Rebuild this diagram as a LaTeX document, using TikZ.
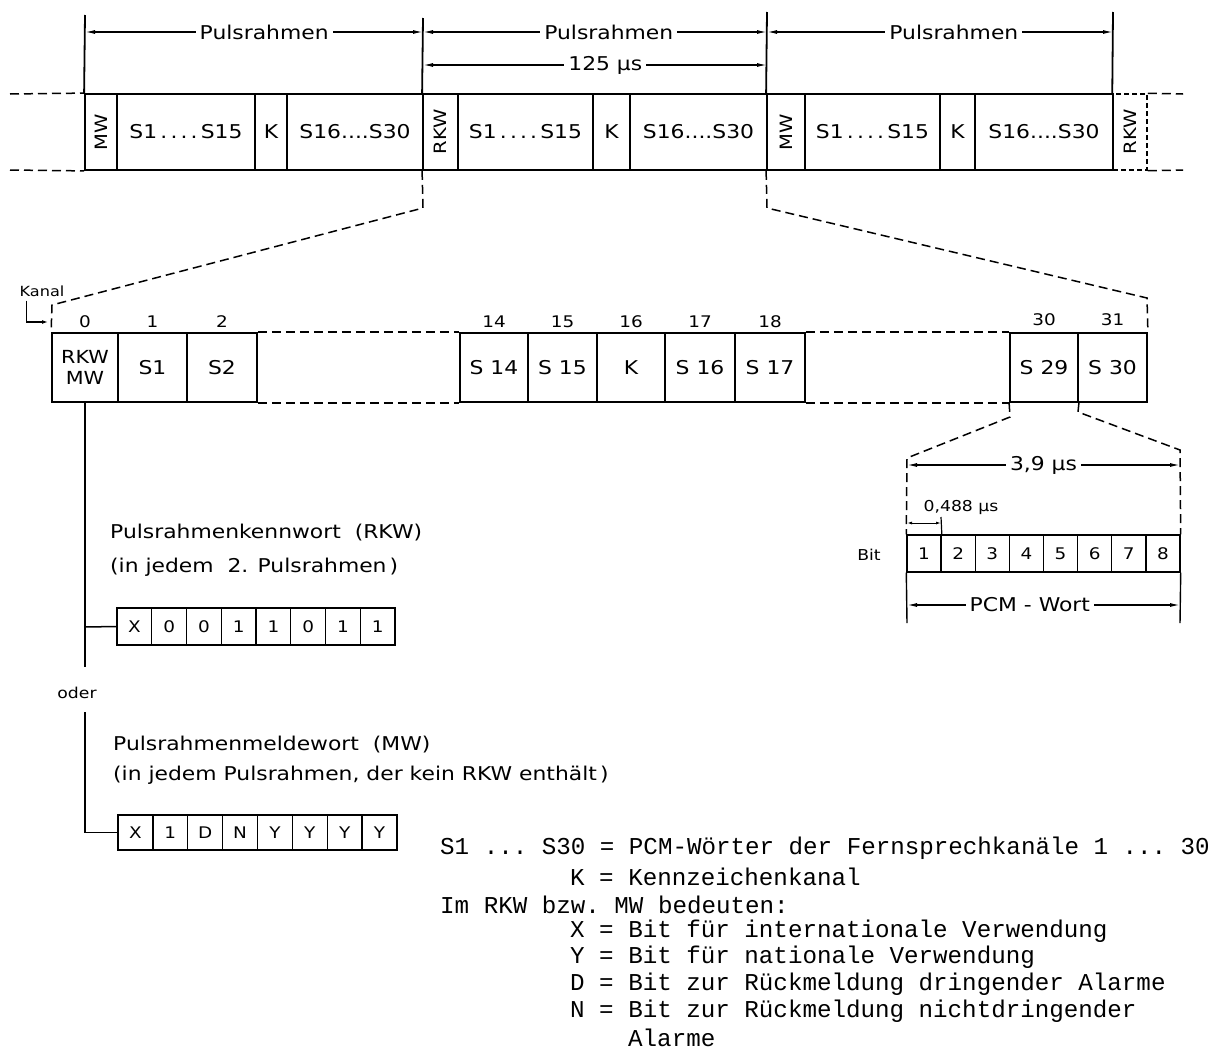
\documentclass[tikz,border=0pt]{standalone}
\usepackage{fontspec}
\usepackage{graphicx}
\setmainfont[FakeStretch=1.15]{DejaVu Sans}
\newfontfamily\typew{Liberation Mono}
\usetikzlibrary{arrows.meta}
\newcommand\fs[2]{\fontsize{#1}{#2}\selectfont}
\newcommand\rcell[7][]{%
  \node[cellsty,#1,minimum width={#4-#3},minimum height={#6-#5}] (#2) at ({(#3+#4)/2},{(#5+#6)/2}) {#7};}
\begin{document}
\begin{tikzpicture}[x=1pt,y=-1pt,
 cellsty/.style={draw,line width=1.8pt,inner sep=0pt,font=\fs{19}{23}},
 smallcell/.style={line width=1.4pt,font=\fs{16}{19}},
 dashbox/.style={dash pattern=on 5pt off 3pt,line width=1.5pt},
 frame/.style={line width=1.8pt},
 dashln/.style={line width=1.5pt,dash pattern=on 9pt off 5pt},
 dimline/.style={line width=1.3pt,{Latex[length=10pt,width=4pt]}-{Latex[length=10pt,width=4pt]}},
 dimsmall/.style={line width=1pt,{Latex[length=5pt,width=3pt]}-{Latex[length=5pt,width=3pt]}},
 lbl/.style={fill=white,inner sep=4pt,font=\fs{19}{23}},
 txt/.style={anchor=west,inner sep=0pt,font=\fs{19}{23}},
 num/.style={anchor=south,inner sep=0pt,font=\fs{16}{19}},
 legend/.style={anchor=west,inner sep=0pt,font=\typew\fs{24.2}{28}\frenchspacing},
]
\fill[white] (0,0) rectangle (1223,1055);
\useasboundingbox (0,0) rectangle (1223,1055);

% ---------- row 1: three frames ----------
\rcell{f1mw}{85}{117}{94}{170}{\rotatebox{90}{\fs{17}{20}MW}}
\rcell{f1a}{117}{255}{94}{170}{S1\,.\,.\,.\,.\,S15}
\rcell{f1k}{255}{287}{94}{170}{K}
\rcell{f1b}{287}{423}{94}{170}{S16....S30}
\rcell{f2rkw}{423}{458}{94}{170}{\rotatebox{90}{\fs{17}{20}RKW}}
\rcell{f2a}{458}{593}{94}{170}{S1\,.\,.\,.\,.\,S15}
\rcell{f2k}{593}{630}{94}{170}{K}
\rcell{f2b}{630}{767}{94}{170}{S16....S30}
\rcell{f3mw}{767}{805}{94}{170}{\rotatebox{90}{\fs{17}{20}MW}}
\rcell{f3a}{805}{940}{94}{170}{S1\,.\,.\,.\,.\,S15}
\rcell{f3k}{940}{975}{94}{170}{K}
\rcell{f3b}{975}{1113}{94}{170}{S16....S30}
\rcell[dashbox]{f4rkw}{1113}{1147}{94}{170}{\rotatebox{90}{\fs{17}{20}RKW}}

\coordinate (el1) at (10,94); \coordinate (el2) at (10,170);
\coordinate (er1) at (1183,94); \coordinate (er2) at (1183,170);
\draw[dashln] (el1) -- (f1mw.north west);
\draw[dashln] (el2) -- (f1mw.south west);
\draw[dashln] (f4rkw.north east) -- (er1);
\draw[dashln] (f4rkw.south east) -- (er2);

% frame boundaries
\coordinate (t0) at (85,15); \coordinate (t1) at (423,18);
\coordinate (t2) at (767,12); \coordinate (t3) at (1113,12);
\draw[frame] (t0) -- (f1mw.north west);
\draw[frame] (t1) -- (f2rkw.north west);
\draw[frame] (t2) -- (f3mw.north west);
\draw[frame] (t3) -- (f4rkw.north west);

% dimensions
\coordinate (p1l) at (85,32);  \coordinate (p1r) at (423,32);
\coordinate (p2l) at (423,32); \coordinate (p2r) at (767,32);
\coordinate (p3l) at (767,32); \coordinate (p3r) at (1113,32);
\coordinate (q1l) at (423,65); \coordinate (q1r) at (767,65);
\draw[dimline] (p1l) -- node[lbl,pos=0.53] (p1t) {Pulsrahmen} (p1r);
\draw[dimline] (p2l) -- node[lbl,pos=0.54] (p2t) {Pulsrahmen} (p2r);
\draw[dimline] (p3l) -- node[lbl,pos=0.54] (p3t) {Pulsrahmen} (p3r);
\draw[dimline] (q1l) -- node[lbl,pos=0.53] (q1t) {125 µs} (q1r);

% ---------- row 2: channels ----------
\rcell{c0}{52}{118}{333}{402}{\parbox{60pt}{\centering\fs{18}{21}RKW\\MW}}
\rcell{c1}{118}{187}{333}{402}{S1}
\rcell{c2}{187}{257}{333}{402}{S2}
\rcell{c14}{460}{528}{333}{402}{S 14}
\rcell{c15}{528}{597}{333}{402}{S 15}
\rcell{c16}{597}{665}{333}{402}{K}
\rcell{c17}{665}{735}{333}{402}{S 16}
\rcell{c18}{735}{805}{333}{402}{S 17}
\rcell{c30}{1010}{1078}{333}{402}{S 29}
\rcell{c31}{1078}{1147}{333}{402}{S 30}

\node[num] (n0) at ([yshift=4pt]c0.north) {0};
\node[num] (n1) at ([yshift=4pt]c1.north) {1};
\node[num] (n2) at ([yshift=4pt]c2.north) {2};
\node[num] (n14) at ([yshift=4pt]c14.north) {14};
\node[num] (n15) at ([yshift=4pt]c15.north) {15};
\node[num] (n16) at ([yshift=4pt]c16.north) {16};
\node[num] (n17) at ([yshift=4pt]c17.north) {17};
\node[num] (n18) at ([yshift=4pt]c18.north) {18};
\node[num] (n30) at ([yshift=6pt]c30.north) {30};
\node[num] (n31) at ([yshift=6pt]c31.north) {31};

\draw[dashln] (c2.north east) -- (c14.north west);
\draw[dashln] (c2.south east) -- (c14.south west);
\draw[dashln] (c18.north east) -- (c30.north west);
\draw[dashln] (c18.south east) -- (c30.south west);

% zoom lines frame -> channels
\coordinate (za) at (423,208); \coordinate (zb) at (52,305);
\coordinate (zc) at (767,208); \coordinate (zd) at (1147,298);
\draw[dashln] (f2rkw.south west) -- (za) -- (zb) -- (c0.north west);
\draw[dashln] (f3mw.south west) -- (zc) -- (zd) -- (c31.north east);

% Kanal
\node[inner sep=0pt,font=\fs{14}{16}] (kanal) at (42,291) {Kanal};
\coordinate (kend) at (48,322);
\draw[line width=1.3pt,-{Latex[length=6pt,width=4pt]}] ([xshift=7pt,yshift=-4pt]kanal.south west) |- (kend);

% ---------- bits of one PCM word ----------
\foreach \v [count=\i] in {1,2,3,4,5,6,7,8}{%
  \pgfmathsetmacro\xa{907+(\i-1)*34.125}%
  \pgfmathsetmacro\xb{907+\i*34.125}%
  \rcell[smallcell]{b\i}{\xa}{\xb}{535}{572}{\v}}
\node[inner sep=0pt,font=\fs{15}{18}] (bitlbl) at (869,555) {Bit};

\coordinate (wa) at (1010,417); \coordinate (wb) at (907,458);
\coordinate (wc) at (1078,412); \coordinate (wd) at (1180,450);
\draw[dashln] (c30.south west) -- (wa) -- (wb) -- (b1.north west);
\draw[dashln] (c30.south east) -- (wc) -- (wd) -- (b8.north east);
\coordinate (wl) at (907,623); \coordinate (wr) at (1180,623);
\draw[line width=1.4pt] (b1.south west) -- (wl);
\draw[line width=1.4pt] (b8.south east) -- (wr);

\coordinate (s1l) at (907,465); \coordinate (s1r) at (1180,465);
\draw[dimline] (s1l) -- node[lbl,pos=0.5] (s1t) {3,9 µs} (s1r);
\coordinate (s2l) at (907,605); \coordinate (s2r) at (1180,605);
\draw[dimline] (s2l) -- node[lbl,pos=0.45] (s2t) {PCM - Wort} (s2r);
\coordinate (tk) at (941,517);
\draw[line width=1.2pt] (b1.north east) -- (tk);
\coordinate (e1l) at (907,523); \coordinate (e1r) at (941,523);
\draw[dimsmall] (e1l) -- (e1r);
\node[inner sep=0pt,font=\fs{15}{18}] (e1t) at (961,507) {0,488 µs};

% ---------- RKW / MW words ----------
\coordinate (v0) at (85,667);
\draw[line width=1.5pt] (c0.south) -- (v0);
\foreach \v [count=\i] in {X,0,0,1,1,0,1,1}{%
  \pgfmathsetmacro\xa{117+(\i-1)*34.75}%
  \pgfmathsetmacro\xb{117+\i*34.75}%
  \rcell[smallcell]{r\i}{\xa}{\xb}{608}{645}{\v}}
\coordinate (vr) at (85,627);
\draw[line width=1.5pt] (vr) -- (r1.west);
\node[txt] (rt1) at (110,533) {Pulsrahmenkennwort\ \ (RKW)};
\node[txt] (rt2) at (110,567) {(in jedem\ \ 2. Pulsrahmen\,)};

\node[inner sep=0pt,font=\fs{15}{18}] (oder) at (77,693) {oder};

\coordinate (v1) at (85,712);
\foreach \v [count=\i] in {X,1,D,N,Y,Y,Y,Y}{%
  \pgfmathsetmacro\xa{118+(\i-1)*34.875}%
  \pgfmathsetmacro\xb{118+\i*34.875}%
  \rcell[smallcell]{m\i}{\xa}{\xb}{815}{850}{\v}}
\draw[line width=1.5pt] (v1) |- (m1.west);
\node[txt] (mt1) at (113,745) {Pulsrahmenmeldewort\ \ (MW)};
\node[txt] (mt2) at (113,775) {(in jedem Pulsrahmen, der kein RKW enthält\,)};

% ---------- legend ----------
\node[legend] (l1) at (440,848) {S1 ... S30 = PCM-Wörter der Fernsprechkanäle 1 ... 30};
\node[legend] (l2) at (570,877) {K = Kennzeichenkanal};
\node[legend] (l3) at (440,905) {Im RKW bzw. MW bedeuten:};
\node[legend] (l4) at (570,931) {X = Bit für internationale Verwendung};
\node[legend] (l5) at (570,957) {Y = Bit für nationale Verwendung};
\node[legend] (l6) at (570,984) {D = Bit zur Rückmeldung dringender Alarme};
\node[legend] (l7) at (570,1011) {N = Bit zur Rückmeldung nichtdringender};
\node[legend] (l8) at (628,1038) {Alarme};
\end{tikzpicture}
\end{document}
